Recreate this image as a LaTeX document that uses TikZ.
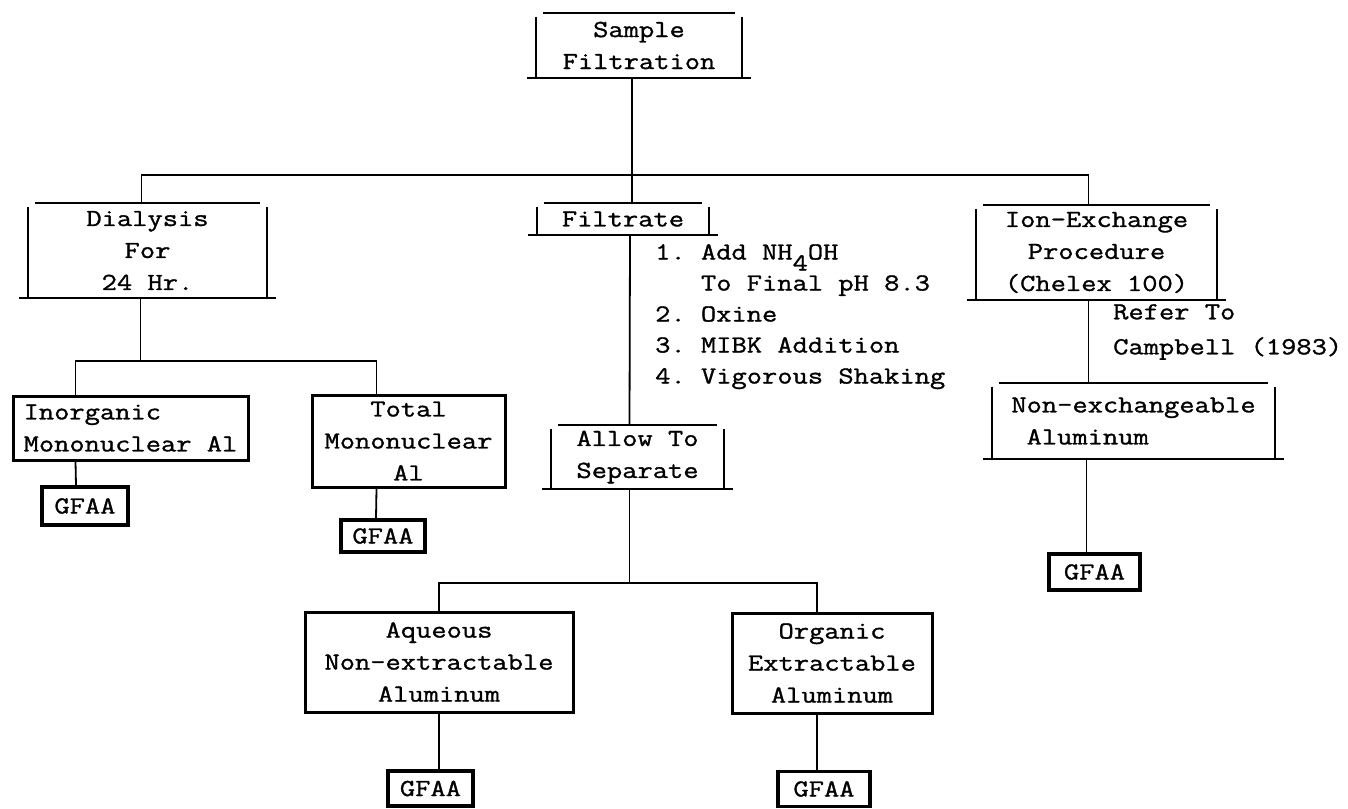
\documentclass[tikz,border=0pt]{standalone}
\usepackage{fontspec}
\setmonofont{Latin Modern Mono}[FakeStretch=1.21, FakeBold=1.2]
\usetikzlibrary{positioning, calc}
\newcommand{\typer}{\fontsize{24.5}{32}\selectfont\ttfamily}

\begin{document}
\begin{tikzpicture}[
  x=1pt, y=-1pt,
  openbox/.style={font=\typer, align=center, inner sep=2pt},
  boxline/.style={line width=1.8pt},
  heavybox/.style={draw, line width=3pt, font=\typer, align=center, inner sep=2pt},
  gfaa/.style={draw, line width=3.4pt, font=\typer, inner sep=2pt,
               minimum height=35pt},
  link/.style={line width=1.8pt},
  note/.style={align=left, anchor=north west, inner sep=0pt},
]
\useasboundingbox (0,0) rectangle (1348,808);

% Sample
\node[openbox, minimum width=206pt, minimum height=65pt] (sample) at (639,45.5) {Sample\\Filtration};

% First level
\node[openbox, minimum width=239pt, minimum height=95pt] (dialysis) at (147.5,250.5) {Dialysis\\For\\24 Hr.};
\node[openbox, minimum width=172pt, minimum height=32pt] (filtrate) at (623,219) {Filtrate};
\node[openbox, minimum width=241pt, minimum height=95pt] (ion) at (1096.5,252.5) {Ion-Exchange\\Procedure\\(Chelex 100)};

% Dialysis products
\node[heavybox, align=left, minimum width=235pt, minimum height=64pt] (inorg) at (130.5,428) {Inorganic\\Mononuclear Al};
\node[heavybox, minimum width=193pt, minimum height=92pt] (total) at (408.5,441) {Total\\Mononuclear\\Al};
\node[gfaa, minimum width=86pt, minimum height=38pt] (gfaa1) at (85,506) {GFAA};
\node[gfaa, minimum width=84pt, minimum height=32pt] (gfaa2) at (383,536) {GFAA};

% Extraction
\node[note, font=\fontsize{24.5}{31}\selectfont\ttfamily] (steps) at (655,244)
  {1. Add NH\raisebox{-11pt}{4}OH\\\hphantom{1. }To Final pH 8.3\\2. Oxine\\3. MIBK Addition\\4. Vigorous Shaking};
\node[openbox, minimum width=173pt, minimum height=64pt] (allow) at (637.5,457) {Allow To\\Separate};
\node[heavybox, minimum width=268pt, minimum height=100pt] (aqueous) at (439,662) {Aqueous\\Non-extractable\\Aluminum};
\node[heavybox, minimum width=200pt, minimum height=100pt] (organic) at (832,663) {Organic\\Extractable\\Aluminum};
\node[gfaa, minimum width=85pt] (gfaa4) at (430.5,788.5) {GFAA};
\node[gfaa, minimum width=92pt] (gfaa5) at (824,789) {GFAA};

% Ion exchange
\node[note, font=\fontsize{24.5}{35}\selectfont\ttfamily] (refer) at (1113,304) {Refer To\\Campbell (1983)};
\node[openbox, align=left, minimum width=283pt, minimum height=76pt] (nonex) at (1133.5,421) {Non-exchangeable\\\hphantom{N}Aluminum};
\node[gfaa, minimum width=91pt, minimum height=36pt] (gfaa3) at (1094.5,572) {GFAA};

% Open frames
\foreach \n in {sample, dialysis, filtrate, ion, allow, nonex} {
  \draw[boxline] ([xshift=7pt]\n.north west) -- ([xshift=-7pt]\n.north east);
  \draw[boxline] ([yshift=-4pt]\n.north west) -- (\n.south west);
  \draw[boxline] ([yshift=-4pt]\n.north east) -- (\n.south east);
  \draw[boxline] ([xshift=-9pt]\n.south west) -- ([xshift=9pt]\n.south east);
}

% Trunk
\draw[link] ([xshift=-7pt]sample.south) -- ([xshift=9pt]filtrate.north);
\draw[link] ([xshift=-6pt]dialysis.north) -- ++(0,-28) -| ([xshift=-8pt]ion.north);

% Dialysis branch
\draw[link] ([xshift=-7pt]dialysis.south) -- ++(0,63) coordinate (dbus);
\draw[link] ([xshift=-55pt]inorg.north) |- (dbus) -| ([xshift=-32pt]total.north);
\draw[link] ([xshift=-55pt]inorg.south) -- ([xshift=-9pt]gfaa1.north);
\draw[link] ([xshift=-32pt]total.south) -- ([xshift=-7pt]gfaa2.north);

% Filtrate branch
\draw[link] ([xshift=7pt]filtrate.south) -- ([xshift=-8pt]allow.north);
\draw[link] ([xshift=-8pt]allow.south) -- ++(0,94) coordinate (abus);
\draw[link] (aqueous.north) |- (abus) -| ([xshift=-15pt]organic.north);
\draw[link] (aqueous.south) -- (aqueous.south |- gfaa4.north);
\draw[link] ([xshift=-15pt]organic.south) -- ([xshift=-7pt]gfaa5.north);

% Ion-exchange branch
\draw[link] ([xshift=-8pt]ion.south) -- ([xshift=-45pt]nonex.north);
\draw[link] ([xshift=-47pt]nonex.south) -- ([xshift=-8pt]gfaa3.north);

\end{tikzpicture}
\end{document}
